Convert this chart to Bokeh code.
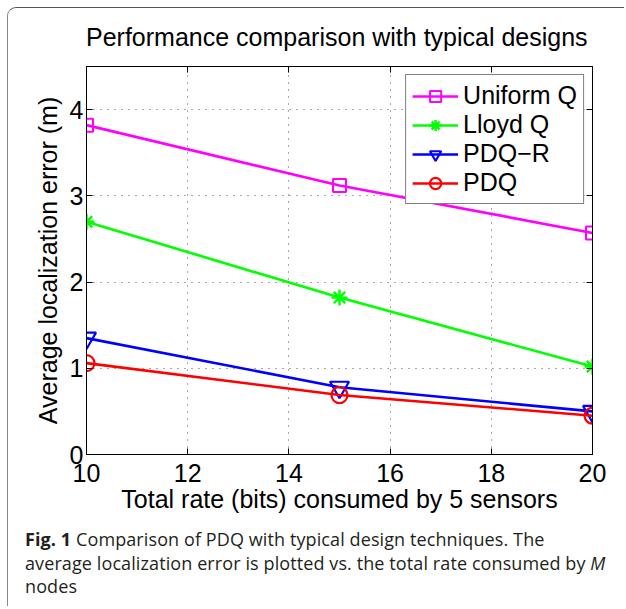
from bokeh.plotting import figure
from bokeh.models import Range1d, FixedTicker, LinearAxis, Legend, LegendItem, Div
from bokeh.layouts import column
from bokeh.embed import file_html
from bokeh.resources import INLINE

# ---- data ----
rate = [10, 15, 20]
uniform_q = [3.82, 3.12, 2.57]
lloyd_q = [2.70, 1.82, 1.02]
pdq_r = [1.35, 0.78, 0.50]
pdq = [1.06, 0.69, 0.45]
x_ticks = [10, 12, 14, 16, 18, 20]
y_ticks = [0, 1, 2, 3, 4]
series_names = ["Uniform Q", "Lloyd Q", "PDQ\u2212R", "PDQ"]
title_text = "Performance comparison with typical designs"
x_label = "Total rate (bits) consumed by 5 sensors"
y_label = "Average localization error (m)"

FONT = "Liberation Sans"
FS = "25px"

W, H = 616, 475
p = figure(width=W, height=H, output_backend="svg", toolbar_location=None,
           x_range=Range1d(10, 20), y_range=Range1d(0, 4.5),
           min_border_left=78, min_border_right=32, min_border_top=13,
           min_border_bottom=74)
p.background_fill_color = "white"
p.border_fill_color = "white"
p.outline_line_color = "black"
p.outline_line_width = 1

for ax in (p.xaxis[0], p.yaxis[0]):
    ax.major_tick_in = 6
    ax.major_tick_out = 0
    ax.minor_tick_in = 0
    ax.minor_tick_out = 0
    ax.axis_line_color = "black"
    ax.major_tick_line_color = "black"
    ax.major_label_text_font = FONT
    ax.major_label_text_font_size = FS
    ax.major_label_text_color = "black"
    ax.axis_label_text_font = FONT
    ax.axis_label_text_font_size = FS
    ax.axis_label_text_font_style = "normal"
    ax.axis_label_text_color = "black"

p.xaxis.ticker = FixedTicker(ticks=x_ticks)
p.yaxis.ticker = FixedTicker(ticks=y_ticks)
p.xaxis.major_label_standoff = 9
p.yaxis.major_label_standoff = 3
p.xaxis.axis_label = x_label
p.yaxis.axis_label = y_label
p.xaxis.axis_label_standoff = 0
p.yaxis.axis_label_standoff = 5

# mirrored ticks on top and right (no labels)
for loc, tk in (("above", x_ticks), ("right", y_ticks)):
    ax = LinearAxis(ticker=FixedTicker(ticks=tk))
    ax.major_tick_in = 6
    ax.major_tick_out = 0
    ax.minor_tick_in = 0
    ax.minor_tick_out = 0
    ax.major_label_text_font_size = "1px"
    ax.major_label_text_color = None
    ax.major_label_standoff = 0
    ax.axis_line_color = "black"
    p.add_layout(ax, loc)

p.xgrid.ticker = FixedTicker(ticks=x_ticks[1:-1])
p.ygrid.ticker = FixedTicker(ticks=y_ticks[1:])
for g in (p.xgrid[0], p.ygrid[0]):
    g.grid_line_color = "#555555"
    g.grid_line_dash = "1 6"
    g.grid_line_width = 1

lw = 2.6
l1 = p.line(rate, uniform_q, line_color="#ff00ff", line_width=lw)
m1 = p.scatter(rate, uniform_q, marker="square", size=13, line_color="#ff00ff",
               fill_color=None, line_width=2)
l2 = p.line(rate, lloyd_q, line_color="#00ff00", line_width=lw)
m2 = p.scatter(rate, lloyd_q, marker="asterisk", size=16, line_color="#00ff00",
               line_width=2.4)
l3 = p.line(rate, pdq_r, line_color="#0000ff", line_width=lw)
m3 = p.scatter(rate, pdq_r, marker="inverted_triangle", size=19, line_color="#0000ff",
               fill_color=None, line_width=2.2)
l4 = p.line(rate, pdq, line_color="#ff0000", line_width=lw)
m4 = p.scatter(rate, pdq, marker="circle", size=16, line_color="#ff0000",
               fill_color=None, line_width=2.2)

legend = Legend(items=[LegendItem(label=series_names[0], renderers=[l1, m1]),
                       LegendItem(label=series_names[1], renderers=[l2, m2]),
                       LegendItem(label=series_names[2], renderers=[l3, m3]),
                       LegendItem(label=series_names[3], renderers=[l4, m4])],
                location="top_right")
legend.margin = 8
legend.padding = 6
legend.spacing = 0
legend.label_height = 28
legend.glyph_height = 28
legend.glyph_width = 46
legend.label_standoff = 5
legend.label_text_font = FONT
legend.label_text_font_size = FS
legend.label_text_color = "black"
legend.border_line_color = "black"
legend.border_line_width = 1
legend.background_fill_alpha = 1
p.add_layout(legend)

# title
title_html = (
    '<div style="font-family:\'Liberation Sans\';font-size:25px;line-height:30px;'
    'color:#000000;padding-top:14px;padding-left:78px;width:506px;'
    'text-align:center;white-space:nowrap;margin:0;">'
    + title_text + '</div>'
)
title_div = Div(text=title_html, width=W, height=45, margin=0)

# caption
caption_html = (
    '<div style="font-family:\'Open Sans\';font-size:18px;line-height:23.5px;'
    'letter-spacing:0.1px;color:#231f20;padding-left:17px;white-space:nowrap;margin:0;">'
    '<b>Fig. 1</b> Comparison of PDQ with typical design techniques. The<br>'
    'average localization error is plotted vs. the total rate consumed by <i>M</i><br>'
    'nodes</div>'
)
cap = Div(text=caption_html, width=W, height=78, margin=0)

layout = column(title_div, p, cap, spacing=0,
                styles={"margin-left": "7px", "margin-top": "7px",
                        "border-top": "1px solid #555555",
                        "border-left": "1px solid #888888",
                        "border-top-left-radius": "9px",
                        "background-color": "white"})

open("out.html", "w").write(file_html(layout, INLINE))
